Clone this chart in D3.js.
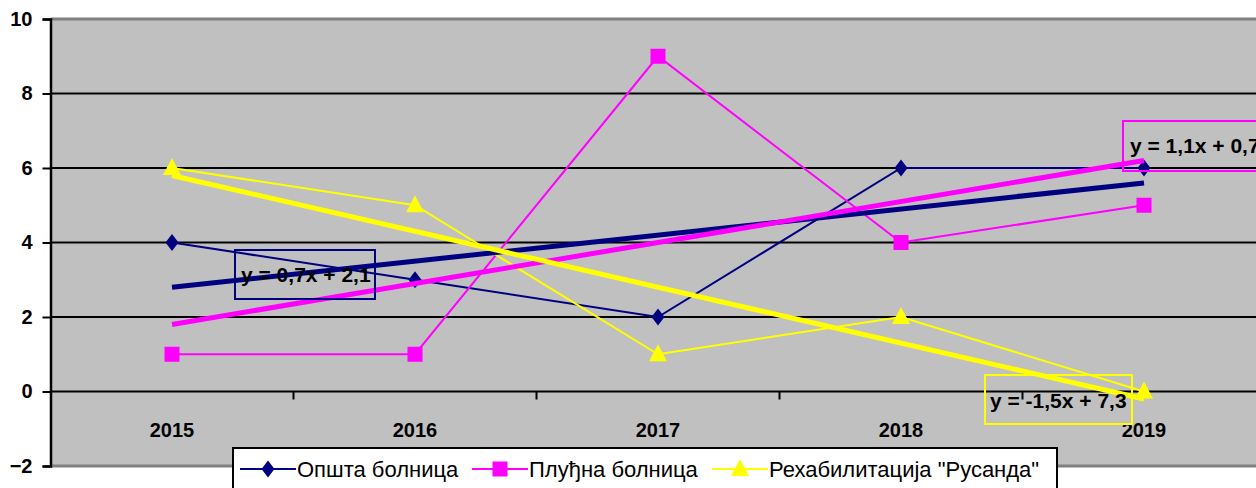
<!DOCTYPE html>
<html>
<head>
<meta charset="utf-8">
<script src="https://cdn.jsdelivr.net/npm/d3@7"></script>
<style>
  body { margin: 0; background: #fff; }
  svg { display: block; }
  .lbl { font-family: "Liberation Sans", Arial, sans-serif; font-weight: bold; }
  .leg { font-family: "Liberation Sans", Arial, sans-serif; }
</style>
</head>
<body>
<svg id="chart" width="1256" height="488"></svg>
<script>
var years = ["2015", "2016", "2017", "2018", "2019"];
var opsta = [4, 3, 2, 6, 6];
var plucna = [1, 1, 9, 4, 5];
var rusanda = [6, 5, 1, 2, 0];
var yTicks = [-2, 0, 2, 4, 6, 8, 10];
var names = ["Општа болница", "Плуђна болница", "Рехабилитација \"Русанда\""];

var series = [
    {name: names[0], values: opsta, color: "#000080", marker: "diamond", box: [235, 250, 140, 49], text: [241, 282]},
    {name: names[1], values: plucna, color: "#ff00ff", marker: "square", box: [1123, 121, 150, 50], text: [1130, 153]},
    {name: names[2], values: rusanda, color: "#ffff00", marker: "triangle", box: [985, 375, 147, 49], text: [990, 408]}
];

var svg = d3.select("#chart");
var pLeft = 50.5, pTop = 19, pBottom = 466, pRight = 1265.5;

var x = d3.scaleBand().domain(years).range([pLeft, pRight]);
var y = d3.scaleLinear().domain([-2, 10]).range([pBottom, pTop]);
function cx(i) { return x(years[i]) + x.bandwidth() / 2; }

// plot background
svg.append("rect")
    .attr("x", pLeft).attr("y", pTop)
    .attr("width", pRight - pLeft).attr("height", pBottom - pTop)
    .attr("fill", "#c0c0c0");
svg.append("line").attr("x1", pLeft).attr("x2", pRight).attr("y1", pTop).attr("y2", pTop)
    .attr("stroke", "#808080").attr("stroke-width", 3);
svg.append("line").attr("x1", pLeft).attr("x2", pRight).attr("y1", pBottom).attr("y2", pBottom)
    .attr("stroke", "#808080").attr("stroke-width", 3);

// gridlines
svg.selectAll(".grid")
    .data(yTicks.filter(function(d) { return d > -2 && d < 10; }))
    .enter().append("line")
    .attr("x1", pLeft).attr("x2", pRight)
    .attr("y1", function(d) { return y(d); })
    .attr("y2", function(d) { return y(d); })
    .attr("stroke", "#000").attr("stroke-width", 2);

// y axis
var yAxis = svg.append("g")
    .attr("transform", "translate(" + pLeft + ",0)")
    .call(d3.axisLeft(y).tickValues(yTicks).tickSize(8).tickPadding(10));
yAxis.select(".domain").attr("stroke-width", 2.5);
yAxis.selectAll(".tick line").attr("stroke-width", 2);
yAxis.selectAll("text").attr("class", "lbl").style("font-size", "20px").attr("fill", "#000");

// x axis on the zero line
var xAxis = svg.append("g")
    .attr("transform", "translate(0," + y(0) + ")")
    .call(d3.axisBottom(x).tickSize(0).tickPadding(31));
xAxis.select(".domain").remove();
xAxis.selectAll("text").attr("class", "lbl").style("font-size", "20px").attr("fill", "#000");
svg.selectAll(".xtick")
    .data(years.slice(1))
    .enter().append("line")
    .attr("x1", function(d) { return x(d); }).attr("x2", function(d) { return x(d); })
    .attr("y1", y(0)).attr("y2", y(0) + 8)
    .attr("stroke", "#000").attr("stroke-width", 2);

function markerPath(type) {
    if (type === "diamond") return "M0,-8.5L6.5,0L0,8.5L-6.5,0Z";
    if (type === "square") return "M-7.5,-7.5H7.5V7.5H-7.5Z";
    return "M0,-10L9,7L-9,7Z";
}

var line = d3.line()
    .x(function(d, i) { return cx(i); })
    .y(function(d) { return y(d); });

// series lines and markers
series.forEach(function(s) {
    svg.append("path")
        .attr("d", line(s.values))
        .attr("fill", "none")
        .attr("stroke", s.color)
        .attr("stroke-width", 2);
    svg.selectAll(".m-" + s.marker)
        .data(s.values)
        .enter().append("path")
        .attr("d", markerPath(s.marker))
        .attr("transform", function(d, i) { return "translate(" + cx(i) + "," + y(d) + ")"; })
        .attr("fill", s.color);
});

// linear trendlines (least squares on x = 1..n)
series.forEach(function(s) {
    var n = s.values.length;
    var xs = s.values.map(function(d, i) { return i + 1; });
    var mx = d3.mean(xs), my = d3.mean(s.values);
    var sxy = d3.sum(xs, function(v, i) { return (v - mx) * (s.values[i] - my); });
    var sxx = d3.sum(xs, function(v) { return (v - mx) * (v - mx); });
    var slope = sxy / sxx, icpt = my - slope * mx;
    s.slope = slope; s.icpt = icpt;
    svg.append("line")
        .attr("x1", cx(0)).attr("y1", y(slope * 1 + icpt))
        .attr("x2", cx(n - 1)).attr("y2", y(slope * n + icpt))
        .attr("stroke", s.color)
        .attr("stroke-width", 5);
});

// trendline equations
function fmt(v) { return d3.format(".1f")(v).replace(".", ",").replace("−", "-"); }
series.forEach(function(s) {
    svg.append("rect")
        .attr("x", s.box[0]).attr("y", s.box[1])
        .attr("width", s.box[2]).attr("height", s.box[3])
        .attr("fill", "none")
        .attr("stroke", s.color)
        .attr("stroke-width", 2);
    svg.append("text")
        .attr("class", "lbl")
        .attr("x", s.text[0]).attr("y", s.text[1])
        .style("font-size", "21px")
        .text("y = " + fmt(s.slope) + "x + " + fmt(s.icpt));
});

// legend
var leg = svg.append("g");
leg.append("rect")
    .attr("x", 233).attr("y", 448)
    .attr("width", 824).attr("height", 50)
    .attr("fill", "#fff")
    .attr("stroke", "#000")
    .attr("stroke-width", 2);
var legX = [240, 472, 712];
series.forEach(function(s, i) {
    var g = leg.append("g").attr("transform", "translate(" + legX[i] + ",469)");
    g.append("line").attr("x1", 0).attr("x2", 56).attr("y1", 0).attr("y2", 0)
        .attr("stroke", s.color).attr("stroke-width", 2);
    g.append("path")
        .attr("d", markerPath(s.marker))
        .attr("transform", "translate(28,0)")
        .attr("fill", s.color);
    g.append("text")
        .attr("class", "leg")
        .attr("x", 57).attr("y", 8)
        .style("font-size", "22px")
        .text(s.name);
});
</script>
</body>
</html>
